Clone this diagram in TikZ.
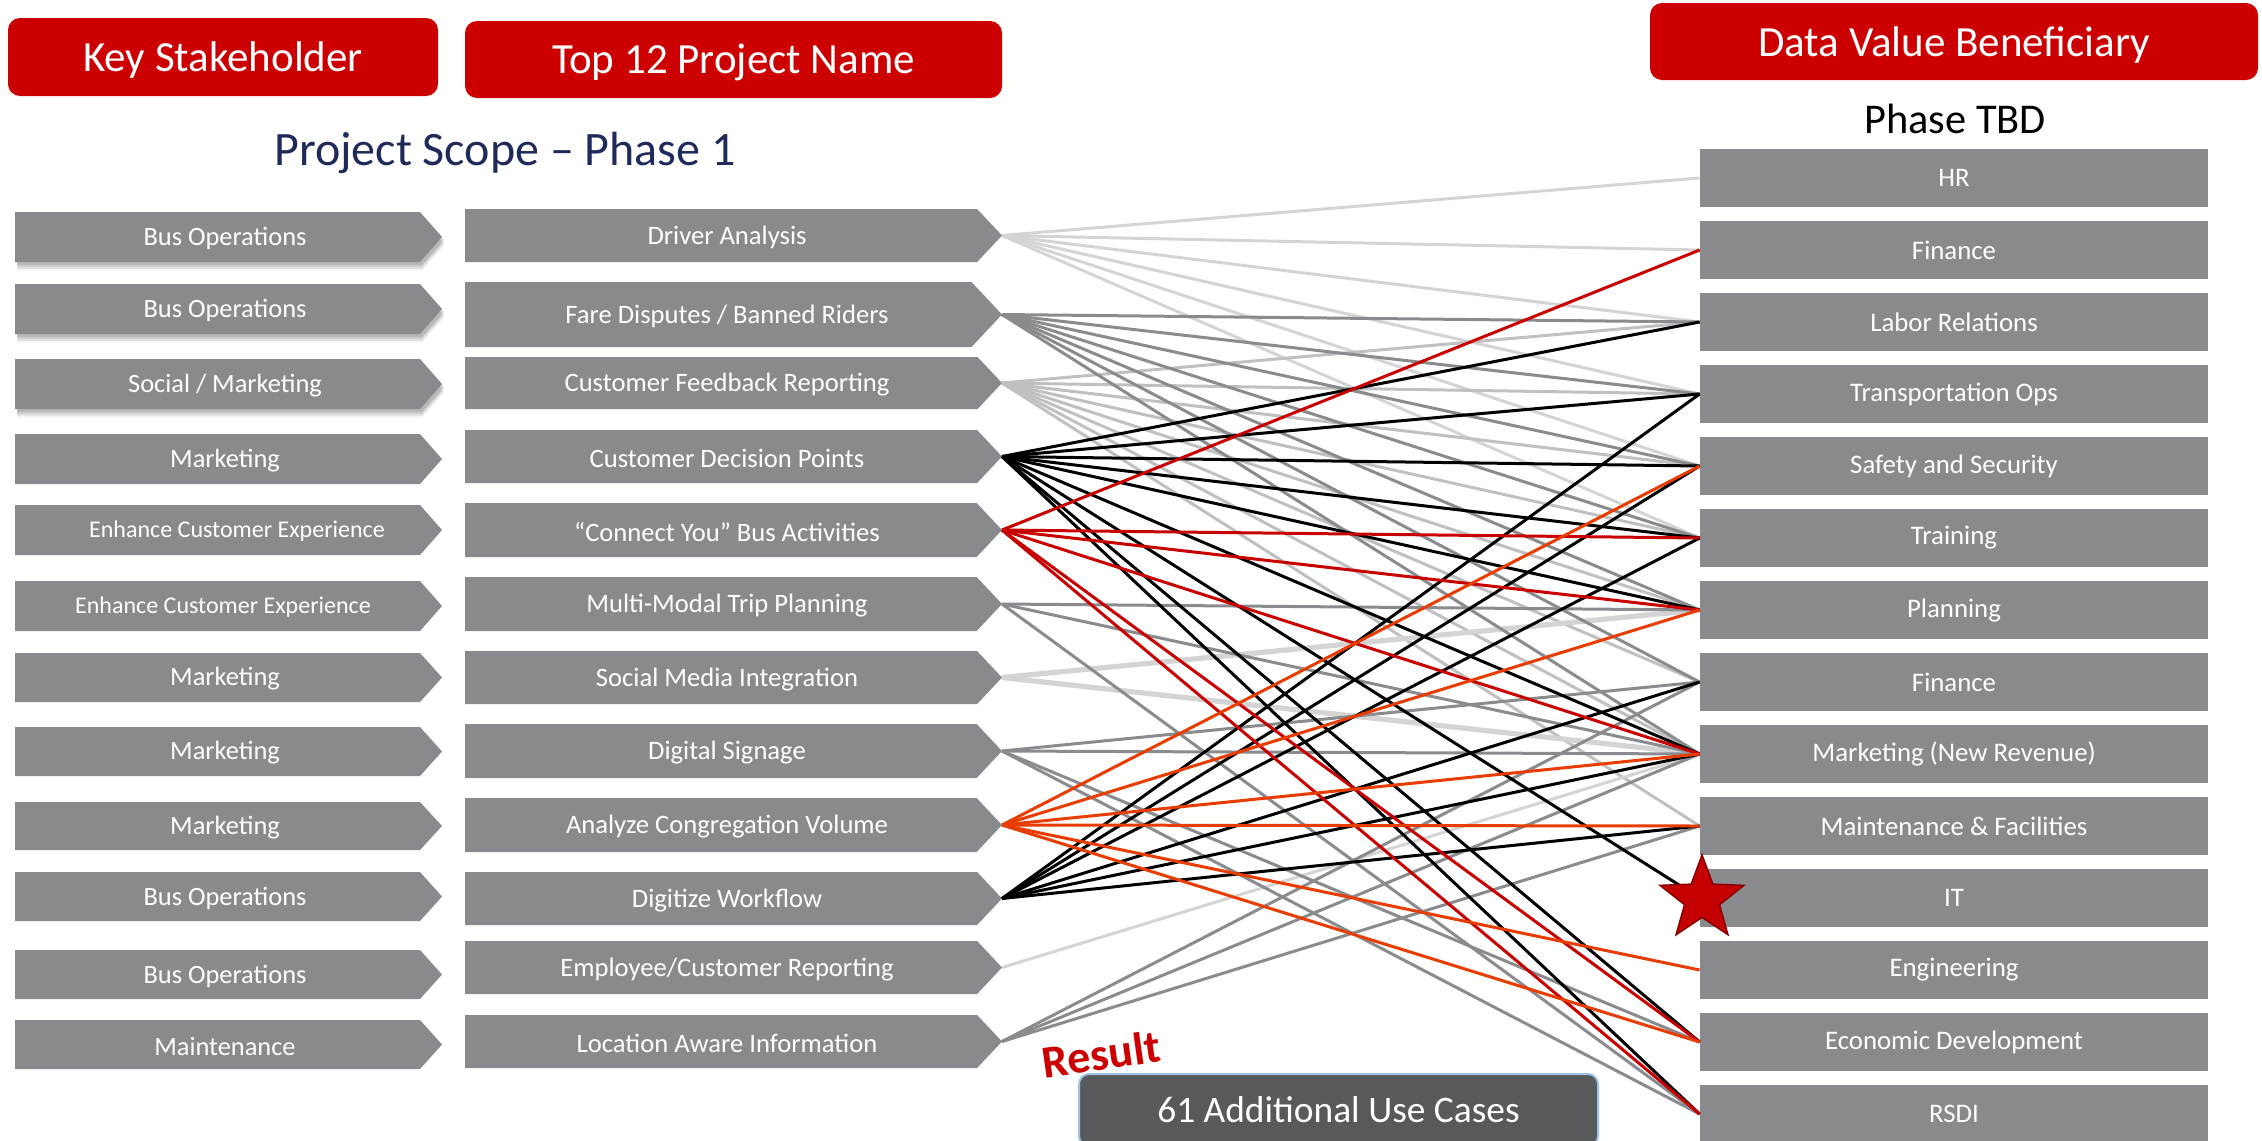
\documentclass[tikz,border=0pt]{standalone}
\usepackage{fontspec}
\setmainfont{Carlito}
\usetikzlibrary{shapes.geometric}
\definecolor{boxgray}{RGB}{137,138,142}
\definecolor{hdrred}{RGB}{204,0,0}
\definecolor{navy}{RGB}{31,42,90}
\definecolor{lgray}{RGB}{212,212,212}
\definecolor{cgray}{RGB}{192,192,194}
\definecolor{mgray}{RGB}{138,139,143}
\definecolor{redline}{RGB}{200,0,0}
\definecolor{orangeline}{RGB}{232,60,0}
\definecolor{usecase}{RGB}{88,89,91}
\definecolor{usecaseedge}{RGB}{157,195,230}
\definecolor{starred}{RGB}{196,0,0}
\definecolor{stardark}{RGB}{140,0,0}
\newcommand\leftbox[6]{% name, top, bottom, text, font size, text x
  \fill[boxgray] (15,#2) -- (420,#2) -- (442,{(#2+#3)/2}) -- (420,#3) -- (15,#3) -- cycle;
  \node[lbtext,font=\fontsize{#5}{#5}\selectfont] (#1) at (#6,{(#2+#3)/2+1.5}) {#4};}
\newcommand\shadowbox[2]{%
  \foreach \d/\o in {3/0.11,5/0.09,7/0.07,9/0.04}{
  \fill[black,opacity=\o] (17,#1+\d) -- (422,#1+\d) -- (444,{(#1+#2)/2+\d}) -- (422,#2+\d) -- (17,#2+\d) -- cycle;}}
\newcommand\midbox[4]{% name, top, bottom, text
  \fill[boxgray] (465,#2) -- ({1002-0.47*(#3-#2)},#2) -- (1002,{(#2+#3)/2}) -- ({1002-0.47*(#3-#2)},#3) -- (465,#3) -- cycle;
  \node[mbtext] (#1) at (727,{(#2+#3)/2+2}) {#4};
  \coordinate (#1t) at (1002,{(#2+#3)/2});}
\newcommand\conn[3]{\foreach \t in {#3}{\draw[#2] (#1t) -- (r\t.west);}}
\begin{document}
\begin{tikzpicture}[x=0.5pt,y=-0.5pt,
  hdr/.style={fill=hdrred, rounded corners=6pt, text=white, inner sep=0pt,
    font=\fontsize{21.5}{24}\selectfont},
  hdrtext/.style={text=white, inner sep=0pt, font=\fontsize{21.5}{24}\selectfont},
  lbtext/.style={text=white, inner sep=0pt},
  mbtext/.style={text=white, inner sep=0pt, font=\fontsize{13.3}{15}\selectfont},
  rbox/.style={fill=boxgray, text=white, inner sep=0pt, minimum width=254pt,
    minimum height=29pt, font=\fontsize{13.4}{15}\selectfont},
  lg/.style={draw=lgray, line width=1.5pt},
  cg/.style={draw=cgray, line width=1.5pt},
  sg/.style={draw=lgray, line width=2.6pt},
  mg/.style={draw=mgray, line width=1.5pt},
  bk/.style={draw=black, line width=1.5pt},
  rd/.style={draw=redline, line width=1.5pt},
  og/.style={draw=orangeline, line width=1.5pt}]
\useasboundingbox (0,0) rectangle (2262,1140);
% headers
\node[hdr, minimum width=215pt, minimum height=39pt] (h1) at (223,57) {};
\node[hdrtext] (h1t) at (223,60) {Key Stakeholder};
\node[hdr, minimum width=268.5pt, minimum height=38.5pt] (h2) at (733.5,59.5) {};
\node[hdrtext] (h2t) at (733.5,62.5) {Top 12 Project Name};
\node[hdr, minimum width=304pt, minimum height=38.5pt] (h3) at (1954,41.5) {};
\node[hdrtext] (h3t) at (1954,45.5) {Data Value Beneficiary};
\node[text=navy, font=\fontsize{24}{26}\selectfont] (scope) at (505,153) {Project Scope – Phase 1};
\node[text=black, font=\fontsize{21.2}{24}\selectfont] (tbd) at (1955,119) {Phase TBD};
% left column
\shadowbox{212}{262}
\shadowbox{284}{334}
\shadowbox{359}{409}
\leftbox{k1}{212}{262}{Bus Operations}{13.2}{225}
\leftbox{k2}{284}{334}{Bus Operations}{13.2}{225}
\leftbox{k3}{359}{409}{Social / Marketing}{13.2}{225}
\leftbox{k4}{434}{484}{Marketing}{13.2}{225}
\leftbox{k5}{505}{555}{Enhance Customer Experience}{12}{237}
\leftbox{k6}{581}{631}{Enhance Customer Experience}{12}{223}
\leftbox{k7}{653}{702}{Marketing}{13.2}{225}
\leftbox{k8}{727}{776}{Marketing}{13.2}{225}
\leftbox{k9}{802}{850}{Marketing}{13.2}{225}
\leftbox{k10}{872}{921}{Bus Operations}{13.2}{225}
\leftbox{k11}{950}{999}{Bus Operations}{13.2}{225}
\leftbox{k12}{1020}{1069}{Maintenance}{13.2}{225}
% middle column
\midbox{m1}{209}{262}{Driver Analysis}
\midbox{m2}{282}{347}{Fare Disputes / Banned Riders}
\midbox{m3}{357}{409}{Customer Feedback Reporting}
\midbox{m4}{430}{483}{Customer Decision Points}
\midbox{m5}{503}{557}{“Connect You” Bus Activities}
\midbox{m6}{577}{631}{Multi-Modal Trip Planning}
\midbox{m7}{651}{704}{Social Media Integration}
\midbox{m8}{724}{778}{Digital Signage}
\midbox{m9}{798}{852}{Analyze Congregation Volume}
\midbox{m10}{872}{925}{Digitize Workflow}
\midbox{m11}{941}{994}{Employee/Customer Reporting}
\midbox{m12}{1015}{1068}{Location Aware Information}
% right column
\node[rbox] (r1) at (1954,178) {HR};
\node[rbox] (r2) at (1954,250) {Finance};
\node[rbox] (r3) at (1954,322) {Labor Relations};
\node[rbox] (r4) at (1954,394) {Transportation Ops};
\node[rbox] (r5) at (1954,466) {Safety and Security};
\node[rbox] (r6) at (1954,538) {Training};
\node[rbox] (r7) at (1954,610) {Planning};
\node[rbox] (r8) at (1954,682) {Finance};
\node[rbox] (r9) at (1954,754) {Marketing (New Revenue)};
\node[rbox] (r10) at (1954,826) {Maintenance \& Facilities};
\node[rbox] (r11) at (1954,898) {IT};
\node[rbox] (r12) at (1954,970) {Engineering};
\node[rbox] (r13) at (1954,1042) {Economic Development};
\node[rbox] (r14) at (1954,1114) {RSDI};
% connectors
\conn{m1}{lg}{1,2,3,4,5,6}
\conn{m3}{cg}{3,4,5,6,7,8,9,10}
\conn{m11}{lg}{9}
\conn{m7}{sg}{7,9}
\conn{m2}{mg}{3,4,5,6,7,8,9}
\conn{m6}{mg}{7,9,14}
\conn{m8}{mg}{8,9,13,14}
\conn{m12}{mg}{8,9,10}
\conn{m4}{bk}{3,4,5,6,7,9,11,13,14}
\conn{m10}{bk}{4,5,6,8,9,10}
\conn{m5}{rd}{2,6,7,9,13,14}
\conn{m9}{og}{5,7,9,10,12,13}
% star
\node[star, star points=5, star point ratio=2.4, minimum size=44pt, inner sep=0pt,
  fill=starred, draw=stardark, line width=0.8pt] (star) at (1702,899) {};
% result
\node[text=hdrred, rotate=8, font=\bfseries\fontsize{23}{25}\selectfont] (res) at (1101,1054) {Result};
\node[fill=usecase, draw=usecaseedge, line width=1pt, rounded corners=5pt,
  minimum width=259.5pt, minimum height=36pt, text=white, inner sep=0pt,
  font=\fontsize{18.7}{20}\selectfont, anchor=north west] (uc) at (1078,1073) {61 Additional Use Cases};
\end{tikzpicture}
\end{document}
